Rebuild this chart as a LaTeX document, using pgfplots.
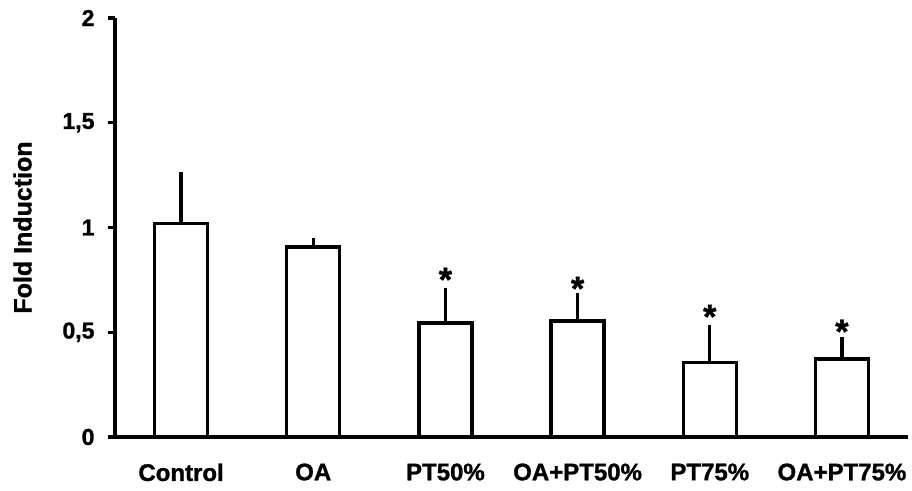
\documentclass[border=0pt]{standalone}
\usepackage{pgfplots}
\pgfplotsset{compat=1.18}
\usepackage{fontspec}
\setmainfont{Liberation Sans}
\newfontfamily\lsw[BoldFeatures={FakeBold=1.2}]{Liberation Sans}
\begin{document}
\begin{tikzpicture}
\useasboundingbox (-115pt,-53pt) rectangle (797pt,437pt);
\begin{axis}[
 at={(0pt,0pt)}, anchor=south west,
 width=793pt, height=419pt, scale only axis,
 xmin=-0.5, xmax=5.5, ymin=0, ymax=2,
 axis lines*=left,
 axis line style={line width=3.2pt},
 xtick={0,...,5},
 xticklabels={Control,OA,PT50\%,OA+PT50\%,PT75\%,OA+PT75\%},
 xtick style={draw=none},
 ytick={0,0.5,1,1.5,2},
 ytick style={line width=3.2pt, black},
 tick align=outside, major tick length=7pt,
 /pgf/number format/use comma,
 /pgf/number format/assume math mode=true,
 yticklabel style={font=\lsw\fontsize{23}{27}\selectfont\bfseries, xshift=-10pt},
 xticklabel style={font=\lsw\fontsize{24}{28}\selectfont\bfseries, yshift=-16pt},
 ylabel={Fold Induction},
 ylabel style={font=\lsw\fontsize{25}{29}\selectfont\bfseries, yshift=24pt},
 clip=false,
]
\addplot[ybar, bar width=53pt, fill=white, draw=black, line width=3.2pt,
  error bars/.cd, y dir=plus, y explicit,
  error bar style={line width=3.2pt, black},
  error mark options={line width=3.2pt, mark size=4pt, black}]
 coordinates {
 (0,1.02) +- (0,0.226)
 (1,0.907) +- (0,0.025)
 (2,0.544) +- (0,0.150)
 (3,0.554) +- (0,0.113)
 (4,0.355) +- (0,0.159)
 (5,0.372) +- (0,0.088)
 };
\addplot[draw=none, mark=none, nodes near coords={*},
  every node near coord/.append style={anchor=center, inner sep=0pt, font=\lsw\fontsize{34}{36}\selectfont\bfseries}]
 coordinates {(2,0.752) (3,0.709) (4,0.575) (5,0.504)};
\end{axis}
\end{tikzpicture}
\end{document}
